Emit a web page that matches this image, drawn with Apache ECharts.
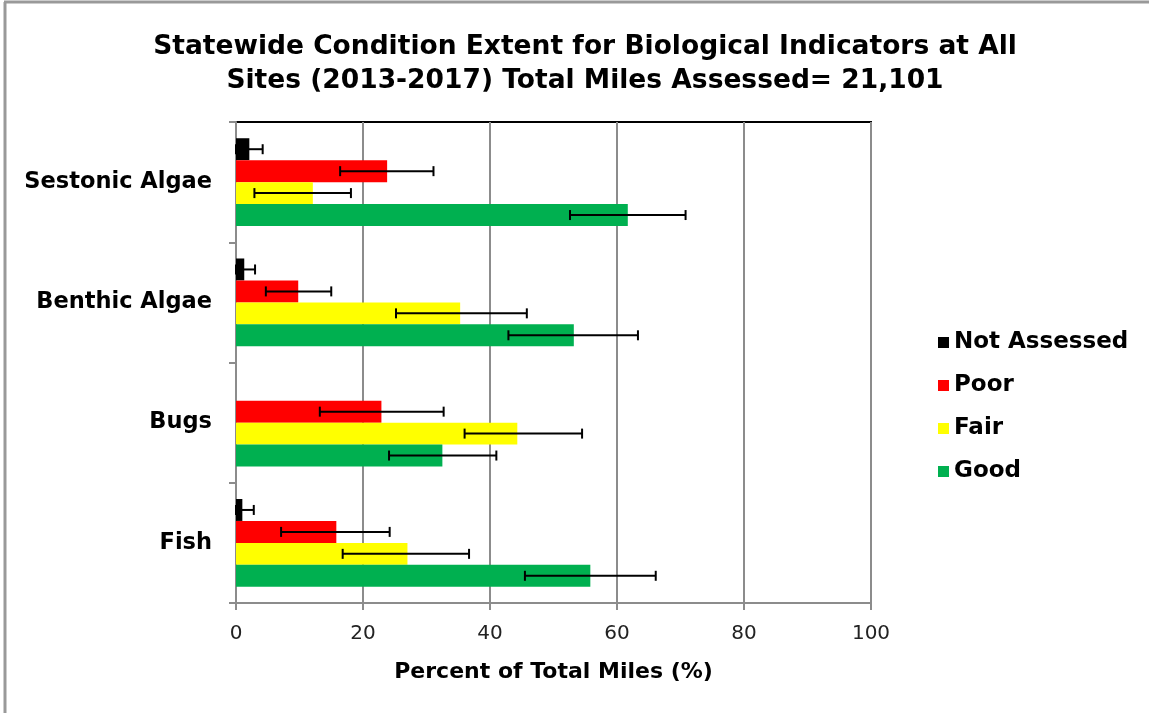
<!DOCTYPE html>
<html>
<head>
<meta charset="utf-8">
<script src="https://cdn.jsdelivr.net/npm/echarts@6/dist/echarts.min.js"></script>
<style>
  html, body { margin: 0; padding: 0; background: #fff; }
  #chart { width: 1149px; height: 713px; }
</style>
</head>
<body>
<div id="chart"></div>
<script>
var categories = ['Sestonic Algae', 'Benthic Algae', 'Bugs', 'Fish'];
var seriesNames = ['Not Assessed', 'Poor', 'Fair', 'Good'];
var colors = ['#000000', '#ff0000', '#ffff00', '#00b050'];

// percent values, one array per condition class (same order as categories)
var notAssessed = [2.1, 1.3, 0, 1.0];
var poor = [23.8, 9.8, 22.9, 15.8];
var fair = [12.1, 35.3, 44.3, 27.0];
var good = [61.7, 53.2, 32.5, 55.8];

// error bar ranges [low, high]; null = no error bar
var notAssessedErr = [[0, 4.2], [0, 3.0], null, [0, 2.8]];
var poorErr = [[16.4, 31.1], [4.7, 15.0], [13.2, 32.7], [7.1, 24.2]];
var fairErr = [[2.9, 18.1], [25.2, 45.8], [36.0, 54.5], [16.8, 36.7]];
var goodErr = [[52.6, 70.8], [42.9, 63.3], [24.1, 41.0], [45.5, 66.1]];

var xTicks = [0, 20, 40, 60, 80, 100];

var values = [notAssessed, poor, fair, good];
var errs = [notAssessedErr, poorErr, fairErr, goodErr];
var gapPct = 0.27;
var font = 'DejaVu Sans, Liberation Sans, Arial, sans-serif';

var chart = echarts.init(document.getElementById('chart'), null, {renderer: 'canvas'});

function errSeries(k) {
  var data = [];
  for (var i = 0; i < categories.length; i++) {
    if (errs[k][i]) data.push([i, errs[k][i][0], errs[k][i][1]]);
  }
  return {
    type: 'custom',
    name: seriesNames[k] + ' err',
    z: 5,
    silent: true,
    encode: {y: 0, x: [1, 2]},
    data: data,
    renderItem: function (params, api) {
      var cat = api.value(0);
      var lo = api.coord([api.value(1), cat]);
      var hi = api.coord([api.value(2), cat]);
      var band = api.size([0, 1])[1];
      var bw = band * (1 - gapPct) / 4;
      var y = lo[1] + (-1.5 + k) * bw;
      var cap = 5;
      var st = {stroke: '#000', lineWidth: 2};
      return {
        type: 'group',
        children: [
          {type: 'line', shape: {x1: lo[0], y1: y, x2: hi[0], y2: y}, style: st},
          {type: 'line', shape: {x1: lo[0], y1: y - cap, x2: lo[0], y2: y + cap}, style: st},
          {type: 'line', shape: {x1: hi[0], y1: y - cap, x2: hi[0], y2: y + cap}, style: st}
        ]
      };
    }
  };
}

var series = [];
for (var k = 0; k < 4; k++) {
  series.push({
    type: 'bar',
    name: seriesNames[k],
    data: values[k],
    itemStyle: {color: colors[k]},
    barGap: '0%',
    barCategoryGap: (gapPct * 100) + '%'
  });
}
for (var k = 0; k < 4; k++) series.push(errSeries(k));

var option = {
  backgroundColor: '#fff',
  animation: false,
  title: {
    text: 'Statewide Condition Extent for Biological Indicators at All\nSites (2013-2017) Total Miles Assessed= 21,101',
    left: 580,
    top: 25,
    textAlign: 'center',
    textStyle: {
      fontFamily: font,
      fontSize: 26.5,
      fontWeight: 'bold',
      color: '#000',
      lineHeight: 34
    }
  },
  legend: {
    orient: 'vertical',
    left: 933,
    top: 326,
    itemWidth: 11,
    itemHeight: 11,
    itemGap: 20,
    icon: 'rect',
    data: seriesNames,
    textStyle: {
      fontFamily: font,
      fontSize: 23,
      fontWeight: 'bold',
      color: '#000',
      lineHeight: 22
    }
  },
  grid: {
    left: 236,
    right: 278,
    top: 122,
    bottom: 110,
    show: true,
    borderColor: '#000',
    borderWidth: 2
  },
  xAxis: {
    type: 'value',
    min: 0,
    max: 100,
    interval: 20,
    name: 'Percent of Total Miles (%)',
    nameLocation: 'middle',
    nameGap: 58,
    nameTextStyle: {
      fontFamily: font,
      fontSize: 22,
      fontWeight: 'bold',
      color: '#000'
    },
    axisLine: {show: true, lineStyle: {color: '#8c8c8c', width: 2}},
    axisTick: {show: true, length: 7, lineStyle: {color: '#8c8c8c', width: 2}},
    axisLabel: {
      margin: 21,
      fontFamily: font,
      fontSize: 20,
      color: '#222',
      formatter: function (v) { return xTicks.indexOf(v) >= 0 ? String(v) : ''; }
    },
    splitLine: {show: true, lineStyle: {color: '#8c8c8c', width: 2}}
  },
  yAxis: {
    type: 'category',
    data: categories,
    inverse: true,
    axisLine: {show: true, lineStyle: {color: '#8c8c8c', width: 2}},
    axisTick: {show: true, length: 7, lineStyle: {color: '#8c8c8c', width: 2}},
    axisLabel: {
      margin: 24,
      fontFamily: font,
      fontSize: 22.5,
      fontWeight: 'bold',
      color: '#000',
      padding: [5, 0, 0, 0]
    }
  },
  graphic: [
    {type: 'line', shape: {x1: 5, y1: 2, x2: 5, y2: 713}, style: {stroke: '#999', lineWidth: 3}},
    {type: 'line', shape: {x1: 4, y1: 2, x2: 1149, y2: 2}, style: {stroke: '#999', lineWidth: 3}}
  ],
  series: series
};

chart.setOption(option);
</script>
</body>
</html>
